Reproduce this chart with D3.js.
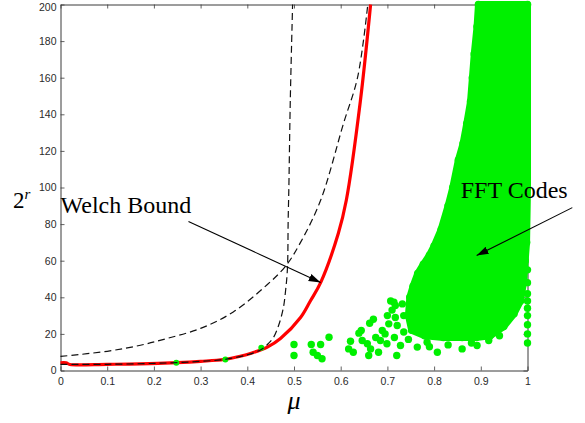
<!DOCTYPE html>
<html>
<head>
<meta charset="utf-8">
<script src="https://cdn.jsdelivr.net/npm/d3@7/dist/d3.min.js"></script>
<style>
  html, body { margin: 0; padding: 0; background: #fff; }
  svg { display: block; }
</style>
</head>
<body>
<svg id="chart" width="585" height="423"></svg>
<script>
// ---------- data ----------
const xTicks = [0, 0.1, 0.2, 0.3, 0.4, 0.5, 0.6, 0.7, 0.8, 0.9, 1];
const yTicks = [0, 20, 40, 60, 80, 100, 120, 140, 160, 180, 200];

// Welch bound (red)
const welchMu  = [0, 0.012, 0.02, 0.1, 0.17, 0.25, 0.30, 0.35, 0.385, 0.41, 0.443, 0.471, 0.514, 0.535, 0.557, 0.595, 0.612, 0.642, 0.664];
const welchVal = [4.2, 4.2, 3.3, 3.4, 3.6, 4.3, 5.0, 6.0, 7.8, 9.6, 12.8, 17.5, 29, 38, 48, 75, 93, 147, 200];

// steep dashed bound
const steepMu  = [0, 0.1, 0.2, 0.25, 0.3, 0.35, 0.4, 0.43, 0.446, 0.456, 0.467, 0.477, 0.482, 0.486, 0.4875, 0.489, 0.492, 0.497];
const steepVal = [3.3, 3.4, 3.9, 4.3, 5.0, 6.0, 8.6, 11.5, 15, 18, 24.6, 34, 43.7, 56, 82, 100, 147, 200];

// shallow dashed bound
const shallowMu  = [0, 0.1, 0.171, 0.228, 0.30, 0.37, 0.443, 0.482, 0.514, 0.557, 0.606, 0.636, 0.658];
const shallowVal = [7.7, 10.5, 13.8, 17.5, 23, 32, 47, 57, 70, 93, 135, 160, 200];

// FFT codes: outline of the dense (saturated) region of points
const blobMu  = [0.895, 1.0, 1.0, 0.998, 0.995, 0.992, 0.985, 0.971, 0.949, 0.92, 0.89, 0.86, 0.82, 0.78, 0.752, 0.745, 0.748, 0.755, 0.765, 0.777, 0.79, 0.80, 0.815, 0.83, 0.84, 0.852, 0.862, 0.87, 0.878, 0.882, 0.886, 0.892];
const blobVal = [200, 200, 100, 70, 60, 49, 38, 31, 24, 19, 18, 18, 18, 19, 22, 30, 40, 46, 53, 58, 63, 68, 77, 90, 100, 115, 124, 135, 147, 160, 173, 188];

// FFT codes: isolated points
const dotMu  = [0.248, 0.353, 0.43,
  0.50, 0.50, 0.537, 0.557, 0.541, 0.55, 0.56, 0.575,
  0.621, 0.617, 0.639, 0.644, 0.627, 0.646, 0.662, 0.657, 0.664, 0.66,
  0.681, 0.689, 0.685, 0.703, 0.707, 0.699, 0.71, 0.72, 0.714, 0.732,
  0.717, 0.735, 0.721, 0.735, 0.728, 0.757, 0.764, 0.785, 0.807, 0.86,
  0.892, 0.917, 0.70, 0.695, 0.675, 0.67, 0.715, 0.745, 0.79, 0.83, 0.88, 0.94, 0.717,
  1, 1, 1, 1, 1, 1, 1, 1, 1];
const dotVal = [4.3, 6.0, 12.4,
  14.2, 8.2, 14.2, 14.2, 10, 8.2, 6.4, 18.2,
  16, 11.8, 20.4, 21.9, 10, 16.4, 25.8, 14.6, 11.8, 8.2,
  10, 21.9, 16.4, 25.5, 38, 14.6, 33, 8.2, 37.3, 36.4,
  29, 30, 24.6, 21, 13.7, 42, 12.8, 15.5, 10, 11.8,
  13.7, 16.4, 30, 20, 18, 28, 18, 17, 13, 14, 15, 19, 35.5,
  15, 20, 25, 30, 34, 38, 42, 48, 55];

// annotations (data coordinates)
const welchLabel = {text: "Welch Bound", mu: 0.0, val: 85.8, fromMu: 0.274, fromVal: 81.4, toMu: 0.557, toVal: 48.1};
const fftLabel   = {text: "FFT Codes",   mu: 0.857, val: 94.0, fromMu: 1.096, fromVal: 89.0, toMu: 0.891, toVal: 62.8};

// ---------- drawing ----------
const svg = d3.select("#chart");
const W = 585, H = 423;
const x = d3.scaleLinear().domain([0, 1]).range([60.5, 527.5]);
const y = d3.scaleLinear().domain([0, 200]).range([370.5, 4.5]);

svg.append("rect").attr("width", W).attr("height", H).attr("fill", "#fff");

const axisColor = "#3a3a3a";
const fmt = d3.format("~g");
function styleAxis(g, showText) {
  g.select(".domain").attr("stroke", axisColor).attr("stroke-width", 1);
  g.selectAll(".tick line").attr("stroke", axisColor).attr("stroke-width", 0.8);
  g.selectAll(".tick text")
    .attr("fill", "#2a2a2a")
    .style("font-family", "'Liberation Sans', Arial, sans-serif")
    .style("font-size", "10.5px");
  if (!showText) g.selectAll(".tick text").remove();
}

const gx = svg.append("g").attr("transform", `translate(0,${y(0)})`)
  .call(d3.axisBottom(x).tickValues(xTicks).tickFormat(fmt).tickSizeInner(-4).tickSizeOuter(0).tickPadding(7));
styleAxis(gx, true);
const gxt = svg.append("g").attr("transform", `translate(0,${y(200)})`)
  .call(d3.axisTop(x).tickValues(xTicks).tickSizeInner(-4).tickSizeOuter(0));
styleAxis(gxt, false);
const gy = svg.append("g").attr("transform", `translate(${x(0)},0)`)
  .call(d3.axisLeft(y).tickValues(yTicks).tickFormat(fmt).tickSizeInner(-4).tickSizeOuter(0).tickPadding(4));
styleAxis(gy, true);
gy.selectAll(".tick text").filter(d => d === 200).attr("dy", "0.55em");
const gyr = svg.append("g").attr("transform", `translate(${x(1)},0)`)
  .call(d3.axisRight(y).tickValues(yTicks).tickSizeInner(-4).tickSizeOuter(0));
styleAxis(gyr, false);

const welch = welchMu.map((m, i) => [m, welchVal[i]]);
const steep = steepMu.map((m, i) => [m, steepVal[i]]);
const shallow = shallowMu.map((m, i) => [m, shallowVal[i]]);
const line = d3.line().x(d => x(d[0])).y(d => y(d[1])).curve(d3.curveCatmullRom.alpha(0.5));

// Welch bound (red)
svg.append("path").attr("d", line(welch))
  .attr("fill", "none").attr("stroke", "#ff0000").attr("stroke-width", 3.2)
  .attr("stroke-linejoin", "round");

// FFT codes
const green = "#00f000";
const blob = blobMu.map((m, i) => [m, blobVal[i]]);
svg.append("path")
  .attr("d", d3.line().x(d => x(d[0])).y(d => y(d[1])).curve(d3.curveLinearClosed)(blob))
  .attr("fill", green).attr("stroke", green).attr("stroke-width", 7).attr("stroke-linejoin", "round");
svg.append("g").selectAll("circle").data(blob).join("circle")
  .attr("cx", d => x(d[0])).attr("cy", d => y(d[1])).attr("r", 3.8).attr("fill", green);
const dots = dotMu.map((m, i) => [m, dotVal[i]]);
svg.append("g").selectAll("circle").data(dots).join("circle")
  .attr("cx", d => x(d[0])).attr("cy", d => y(d[1])).attr("r", (d, i) => i < 3 ? 3 : 3.7)
  .attr("fill", green);

// dashed bounds
[steep, shallow].forEach(s => {
  svg.append("path").attr("d", line(s))
    .attr("fill", "none").attr("stroke", "#111").attr("stroke-width", 1.2)
    .attr("stroke-dasharray", "7,4");
});

// arrow marker
const defs = svg.append("defs");
defs.append("marker").attr("id", "arrow").attr("viewBox", "0 0 10 10")
  .attr("refX", 10).attr("refY", 5).attr("markerWidth", 12).attr("markerHeight", 12)
  .attr("markerUnits", "userSpaceOnUse").attr("orient", "auto")
  .append("path").attr("d", "M0,1.8 L10,5 L0,8.2 Z").attr("fill", "#000");

const serif = "'Liberation Serif', 'Times New Roman', serif";
[welchLabel, fftLabel].forEach(a => {
  svg.append("line")
    .attr("x1", x(a.fromMu)).attr("y1", y(a.fromVal))
    .attr("x2", x(a.toMu)).attr("y2", y(a.toVal))
    .attr("stroke", "#000").attr("stroke-width", 1.1).attr("marker-end", "url(#arrow)");
  svg.append("text").attr("x", x(a.mu)).attr("y", y(a.val))
    .style("font-family", serif).style("font-size", "24px").attr("fill", "#000")
    .text(a.text);
});

// axis labels
svg.append("text").attr("x", x(0.5)).attr("y", 409).attr("text-anchor", "middle")
  .style("font-family", serif).style("font-style", "italic").style("font-size", "26px")
  .text("μ");
const yl = svg.append("text").attr("x", 13).attr("y", 208)
  .style("font-family", serif).style("font-size", "23px");
yl.append("tspan").text("2");
yl.append("tspan").attr("dy", -9).style("font-style", "italic").style("font-size", "15px").text("r");
</script>
</body>
</html>
